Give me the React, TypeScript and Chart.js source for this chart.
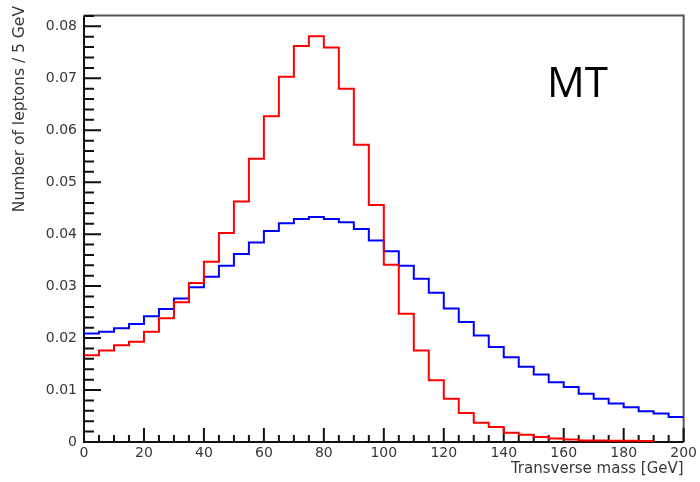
import React, { useEffect, useRef } from 'react';
import { Chart, registerables } from 'chart.js';

Chart.register(...registerables);

// Bin edges of the 5 GeV histogram [GeV]
const binEdges = [
  0, 5, 10, 15, 20, 25, 30, 35, 40, 45, 50, 55, 60, 65, 70, 75, 80, 85, 90, 95, 100,
  105, 110, 115, 120, 125, 130, 135, 140, 145, 150, 155, 160, 165, 170, 175, 180, 185, 190, 195, 200,
];

// Red histogram (filled bins up to 190 GeV)
const redValues = [
  0.0167, 0.0176, 0.0186, 0.0193, 0.0212, 0.0238, 0.0269, 0.0306, 0.0347, 0.0402,
  0.0463, 0.0545, 0.0627, 0.0703, 0.0762, 0.0781, 0.0759, 0.0680, 0.0572, 0.0456,
  0.0341, 0.0247, 0.0176, 0.0119, 0.0083, 0.0056, 0.0037, 0.0029, 0.0018, 0.0014,
  0.00095, 0.00065, 0.0005, 0.0003, 0.0003, 0.00025, 0.00025, 0.0002,
];

// Blue histogram
const blueValues = [
  0.0209, 0.0212, 0.0219, 0.0227, 0.0242, 0.0256, 0.0276, 0.0298, 0.0318, 0.0339,
  0.0362, 0.0384, 0.0406, 0.0421, 0.0429, 0.0433, 0.0429, 0.0423, 0.0410, 0.0388,
  0.0367, 0.0339, 0.0314, 0.0287, 0.0257, 0.0231, 0.0205, 0.0183, 0.0163, 0.0145,
  0.0130, 0.0115, 0.0106, 0.0093, 0.0083, 0.0074, 0.0067, 0.0059, 0.0055, 0.0048,
];

const xMin = 0;
const xMax = 200;
const xMajorStep = 20;
const yMin = 0;
const yMax = 0.0821;
const yMajorStep = 0.01;
const yMinorStep = 0.002;

const xTitle = 'Transverse mass [GeV]';
const yTitle = 'Number of leptons / 5 GeV';
const plotLabel = 'MT';

const textColor = '#383838';
const fontFamily = '"DejaVu Sans", sans-serif';

function histPoints(vals: number[]) {
  const pts = vals.map((v, i) => ({ x: binEdges[i], y: v }));
  pts.push({ x: binEdges[vals.length], y: vals[vals.length - 1] });
  return pts;
}

const framePlugin = {
  id: 'rootFrame',
  beforeDatasetsDraw(chart: any) {
    const { ctx, chartArea: a, scales } = chart;
    const xs = scales.x;
    const ys = scales.y;
    ctx.save();
    ctx.lineWidth = 2;
    ctx.lineCap = 'butt';
    // top / right frame
    ctx.strokeStyle = '#555';
    ctx.beginPath();
    ctx.moveTo(a.left, a.top);
    ctx.lineTo(a.right, a.top);
    ctx.lineTo(a.right, a.bottom);
    ctx.stroke();
    // axes
    ctx.strokeStyle = '#111';
    ctx.beginPath();
    ctx.moveTo(a.left, a.top);
    ctx.lineTo(a.left, a.bottom);
    ctx.lineTo(a.right, a.bottom);
    ctx.stroke();
    // x ticks (minor at each bin edge, major every 20)
    ctx.beginPath();
    for (const e of binEdges) {
      const px = xs.getPixelForValue(e);
      const major = Math.abs(e / xMajorStep - Math.round(e / xMajorStep)) < 1e-9;
      const len = major ? 14 : 7;
      ctx.moveTo(px, a.bottom);
      ctx.lineTo(px, a.bottom - len);
    }
    ctx.stroke();
    // y ticks
    ctx.beginPath();
    const nMinor = Math.floor((yMax - yMin) / yMinorStep + 1e-9);
    const perMajor = Math.round(yMajorStep / yMinorStep);
    for (let k = 0; k <= nMinor; k++) {
      const v = yMin + k * yMinorStep;
      const py = ys.getPixelForValue(v);
      const len = k % perMajor === 0 ? 17 : 10;
      ctx.moveTo(a.left, py);
      ctx.lineTo(a.left + len, py);
    }
    ctx.stroke();
    ctx.restore();
  },
  afterDraw(chart: any) {
    const { ctx } = chart;
    ctx.save();
    // y-axis title, right-aligned near the top like ROOT
    ctx.fillStyle = textColor;
    ctx.font = '15.5px ' + fontFamily;
    ctx.translate(20, 6);
    ctx.rotate(-Math.PI / 2);
    ctx.textAlign = 'right';
    ctx.textBaseline = 'middle';
    ctx.fillText(yTitle, 0, 0);
    ctx.restore();

    ctx.save();
    ctx.fillStyle = '#000';
    ctx.font = '42px "Open Sans"';
    ctx.textBaseline = 'alphabetic';
    ctx.textAlign = 'left';
    ctx.fillText(plotLabel, 547, 97);
    ctx.restore();
  },
};

export default function App() {
  const ref = useRef<HTMLCanvasElement | null>(null);

  useEffect(() => {
    if (!ref.current) return;
    const tickFont = { family: fontFamily, size: 14 };
    const chart = new Chart(ref.current, {
      type: 'line',
      data: {
        datasets: [
          {
            label: 'red',
            data: histPoints(redValues),
            borderColor: '#ff0000',
            borderWidth: 2,
            pointRadius: 0,
            stepped: 'before',
            fill: false,
          },
          {
            label: 'blue',
            data: histPoints(blueValues),
            borderColor: '#0000ff',
            borderWidth: 2,
            pointRadius: 0,
            stepped: 'before',
            fill: false,
          },
        ],
      },
      options: {
        animation: false,
        responsive: false,
        devicePixelRatio: 1,
        layout: { padding: { top: 10, right: 14, left: 0, bottom: 0 } },
        plugins: {
          legend: { display: false },
          tooltip: { enabled: false },
        },
        scales: {
          x: {
            type: 'linear',
            min: xMin,
            max: xMax,
            grid: { display: false, drawTicks: false },
            border: { display: false },
            ticks: {
              stepSize: xMajorStep,
              includeBounds: false,
              color: textColor,
              font: tickFont,
              padding: 3,
              maxRotation: 0,
              autoSkip: false,
              callback: (v: any) => String(v),
            },
            title: {
              display: true,
              text: xTitle,
              align: 'end',
              color: textColor,
              font: { family: fontFamily, size: 15 },
              padding: { top: 0, bottom: 4 },
            },
            afterFit: (s: any) => {
              s.height = 40;
            },
          },
          y: {
            type: 'linear',
            min: yMin,
            max: yMax,
            grid: { display: false, drawTicks: false },
            border: { display: false },
            ticks: {
              stepSize: yMajorStep,
              includeBounds: false,
              color: textColor,
              font: tickFont,
              padding: 7,
              autoSkip: false,
              callback: (v: any) => (Math.abs(v) < 1e-12 ? '0' : Number(v).toFixed(2)),
            },
            title: { display: false },
            afterFit: (s: any) => {
              s.width = 84;
            },
          },
        },
      },
      plugins: [framePlugin],
    } as any);
    return () => chart.destroy();
  }, []);

  return (
    <div style={{ position: 'absolute', left: 0, top: 0, width: 700, height: 482, background: '#fff' }}>
      <canvas ref={ref} width={700} height={482} style={{ display: 'block' }} />
    </div>
  );
}
